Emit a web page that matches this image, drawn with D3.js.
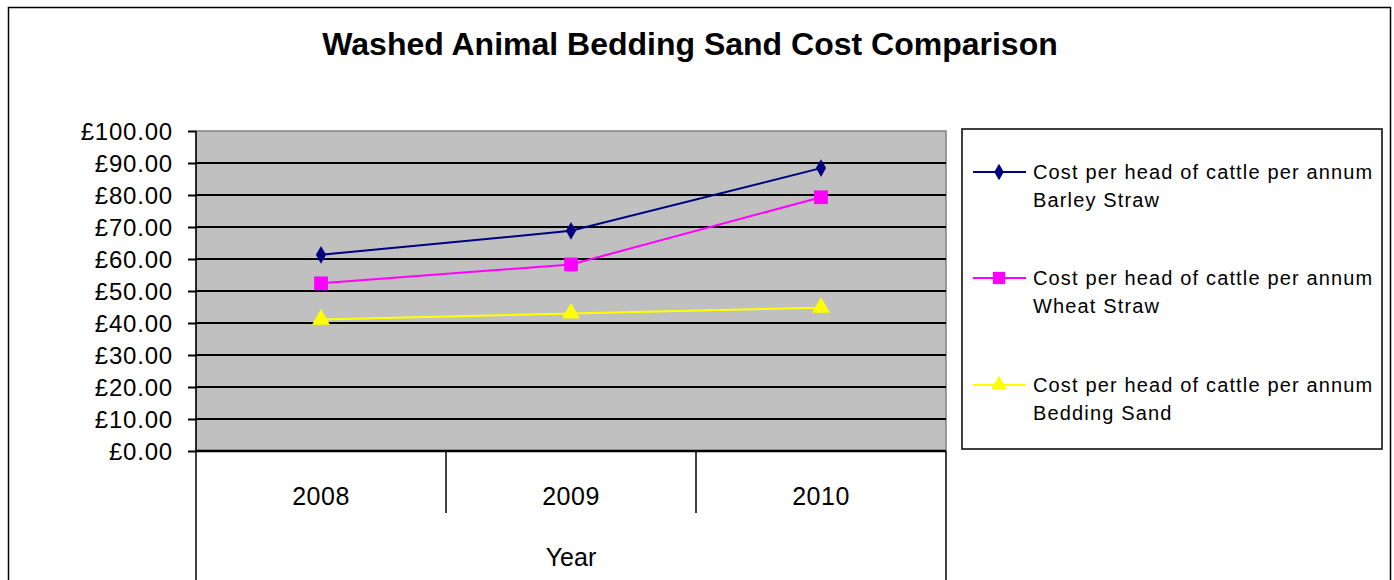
<!DOCTYPE html>
<html lang="en">
<head>
  <meta charset="UTF-8">
  <title>Washed Animal Bedding Sand Cost Comparison</title>
  <style>
    body, html {
      margin: 0;
      padding: 0;
      background-color: #fff;
    }
    #svg text {
      font-family: "Liberation Sans", Arial, sans-serif;
      fill: #000;
    }
  </style>
</head>
<body>
  <svg id="svg" width="1394" height="580"></svg>
  <script src="https://d3js.org/d3.v7.min.js"></script>
  <script>
    const years = ['2008', '2009', '2010']
    const barley = [61.3, 68.8, 88.4]
    const wheat = [52.4, 58.3, 79.3]
    const sand = [41.1, 43.0, 44.8]
    const yTicks = [0, 10, 20, 30, 40, 50, 60, 70, 80, 90, 100]
    const seriesNames = [
      ['Cost per head of cattle per annum', 'Barley Straw'],
      ['Cost per head of cattle per annum', 'Wheat Straw'],
      ['Cost per head of cattle per annum', 'Bedding Sand']
    ]
    const seriesColors = ['#000080', '#ff00ff', '#ffff00']
    const seriesShapes = [d3.symbolDiamond, d3.symbolSquare, d3.symbolTriangle]
    const markSizes = [90, 190, 140]
    const legendSizes = [80, 150, 110]

    const series = [barley, wheat, sand].map((vals, i) => ({
      name: seriesNames[i],
      color: seriesColors[i],
      shape: seriesShapes[i],
      size: markSizes[i],
      legendSize: legendSizes[i],
      values: vals.map((v, j) => ({ year: years[j], value: v }))
    }))

    const plotLeft = 196, plotRight = 946, plotTop = 131, plotBottom = 451

    const svg = d3.select('#svg')

    // outer frame
    svg.append('rect')
      .attr('x', 8.5).attr('y', 7.5)
      .attr('width', 1382).attr('height', 620)
      .attr('fill', 'none').attr('stroke', '#000').attr('stroke-width', 1.5)

    svg.append('text')
      .attr('x', 690).attr('y', 55)
      .attr('text-anchor', 'middle')
      .style('font-size', '32px')
      .style('font-weight', 'bold')
      .text('Washed Animal Bedding Sand Cost Comparison')

    const xScale = d3.scaleBand().domain(years).range([plotLeft, plotRight])
    const yScale = d3.scaleLinear().domain([0, 100]).range([plotBottom, plotTop])

    // plot area
    svg.append('rect')
      .attr('x', plotLeft).attr('y', plotTop)
      .attr('width', plotRight - plotLeft).attr('height', plotBottom - plotTop)
      .attr('fill', '#c0c0c0').attr('stroke', '#808080').attr('stroke-width', 1.5)

    svg.append('g')
      .selectAll('line')
      .data(yTicks.filter(d => d > 0 && d < 100))
      .enter()
      .append('line')
      .attr('x1', plotLeft).attr('x2', plotRight)
      .attr('y1', d => yScale(d)).attr('y2', d => yScale(d))
      .attr('stroke', '#000').attr('stroke-width', 2)

    // y axis
    const leftAxis = d3.axisLeft(yScale)
      .tickValues(yTicks)
      .tickSize(8)
      .tickPadding(15)
      .tickFormat(d => '£' + d.toFixed(2))
    const yg = svg.append('g')
      .attr('transform', `translate(${plotLeft}, 0)`)
      .call(leftAxis)
    yg.select('.domain').remove()
    yg.selectAll('.tick line').attr('stroke', '#000').attr('stroke-width', 2)
    yg.selectAll('.tick text')
      .style('font-size', '24px')
      .style('letter-spacing', '0.8px')
      .attr('dy', '0.35em')

    // category axis with group lines
    svg.append('line')
      .attr('x1', plotLeft).attr('x2', plotRight)
      .attr('y1', plotBottom).attr('y2', plotBottom)
      .attr('stroke', '#000').attr('stroke-width', 2.5)
    svg.append('g')
      .selectAll('line')
      .data(years.slice(1))
      .enter()
      .append('line')
      .attr('x1', d => xScale(d)).attr('x2', d => xScale(d))
      .attr('y1', plotBottom).attr('y2', 513)
      .attr('stroke', '#000').attr('stroke-width', 1.5)
    svg.append('g')
      .selectAll('line')
      .data([plotLeft, plotRight])
      .enter()
      .append('line')
      .attr('x1', d => d).attr('x2', d => d)
      .attr('y1', d => d === plotLeft ? plotTop : plotBottom).attr('y2', 580)
      .attr('stroke', '#000').attr('stroke-width', 1.5)
    svg.append('g')
      .selectAll('text')
      .data(years)
      .enter()
      .append('text')
      .attr('x', d => xScale(d) + xScale.bandwidth() / 2)
      .attr('y', 505)
      .attr('text-anchor', 'middle')
      .style('font-size', '25px')
      .style('letter-spacing', '0.5px')
      .text(d => d)
    svg.append('text')
      .attr('x', (plotLeft + plotRight) / 2)
      .attr('y', 566)
      .attr('text-anchor', 'middle')
      .style('font-size', '25px')
      .text('Year')

    // lines and markers
    const line = d3.line()
      .x(d => xScale(d.year) + xScale.bandwidth() / 2)
      .y(d => yScale(d.value))

    const groups = svg.append('g')
      .selectAll('g')
      .data(series)
      .enter()
      .append('g')
    groups.append('path')
      .attr('d', d => line(d.values))
      .attr('fill', 'none')
      .attr('stroke', d => d.color)
      .attr('stroke-width', 2)
    groups.each(function (s) {
      d3.select(this)
        .selectAll('path.mark')
        .data(s.values)
        .enter()
        .append('path')
        .attr('class', 'mark')
        .attr('d', d3.symbol().type(s.shape).size(s.size))
        .attr('transform', d => `translate(${xScale(d.year) + xScale.bandwidth() / 2}, ${yScale(d.value)})`)
        .attr('fill', s.color)
    })

    // legend
    svg.append('rect')
      .attr('x', 962).attr('y', 129)
      .attr('width', 420).attr('height', 320)
      .attr('fill', '#fff').attr('stroke', '#000').attr('stroke-width', 1.5)
    const legendY = [172, 278, 385]
    const items = svg.append('g')
      .selectAll('g')
      .data(series)
      .enter()
      .append('g')
      .attr('transform', (d, i) => `translate(0, ${legendY[i]})`)
    items.append('line')
      .attr('x1', 973).attr('x2', 1026)
      .attr('stroke', d => d.color).attr('stroke-width', 2)
    items.append('path')
      .attr('d', d => d3.symbol().type(d.shape).size(d.legendSize)())
      .attr('transform', 'translate(999, 0)')
      .attr('fill', d => d.color)
    items.append('text')
      .attr('x', 1033).attr('y', 7)
      .style('font-size', '20px')
      .style('letter-spacing', '1.15px')
      .text(d => d.name[0])
    items.append('text')
      .attr('x', 1033).attr('y', 35)
      .style('font-size', '20px')
      .style('letter-spacing', '1.15px')
      .text(d => d.name[1])
  </script>
</body>
</html>
